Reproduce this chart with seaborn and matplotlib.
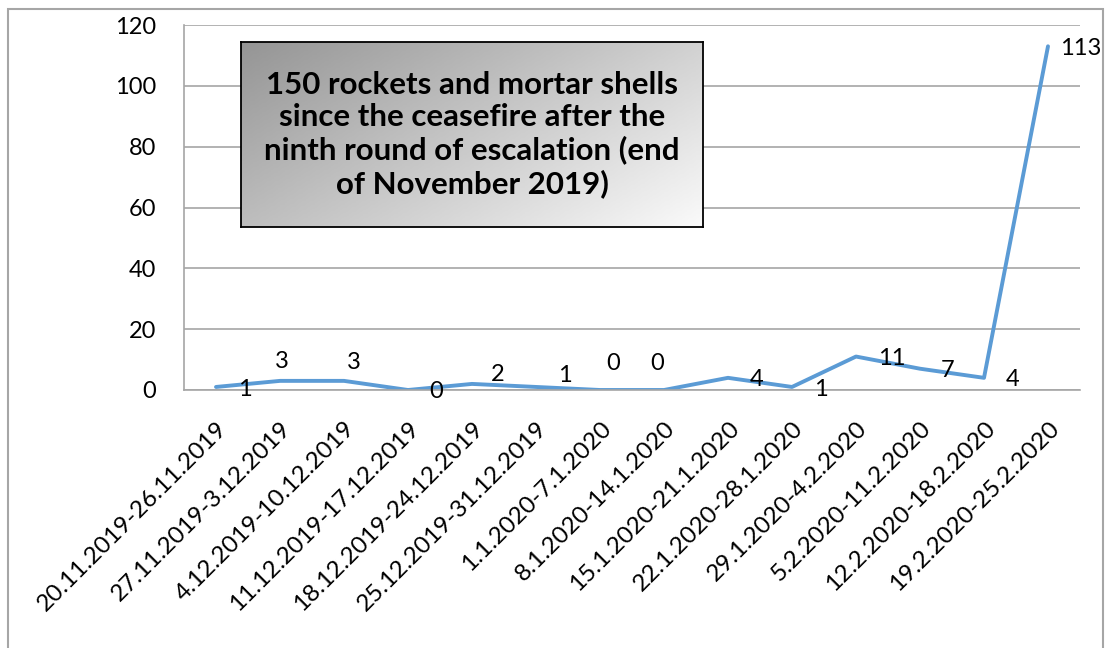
import numpy as np
import pandas as pd
import matplotlib
matplotlib.use("Agg")
import matplotlib.pyplot as plt
from matplotlib.patches import Rectangle
import seaborn as sns

weeks = ["20.11.2019-26.11.2019", "27.11.2019-3.12.2019", "4.12.2019-10.12.2019",
         "11.12.2019-17.12.2019", "18.12.2019-24.12.2019", "25.12.2019-31.12.2019",
         "1.1.2020-7.1.2020", "8.1.2020-14.1.2020", "15.1.2020-21.1.2020",
         "22.1.2020-28.1.2020", "29.1.2020-4.2.2020", "5.2.2020-11.2.2020",
         "12.2.2020-18.2.2020", "19.2.2020-25.2.2020"]
counts = [1, 3, 3, 0, 2, 1, 0, 0, 4, 1, 11, 7, 4, 113]
y_ticks = [0, 20, 40, 60, 80, 100, 120]
title_text = ("150 rockets and mortar shells\nsince the ceasefire after the\n"
              "ninth round of escalation (end\nof November 2019)")

# label offsets in pixels (dx, dy up)
label_offsets = [(29, -3), (2, 19), (10, 18), (28, -1), (26, 9), (29, 11), (13, 27),
                 (-7, 27), (29, -2), (29, -3), (36, -2), (28, -2), (29, -2), (33, -2)]

sns.set_theme(style="white")
plt.rcParams['font.family'] = ['Lato', 'DejaVu Sans']
plt.rcParams['text.color'] = 'black'
plt.rcParams['xtick.color'] = 'black'
plt.rcParams['ytick.color'] = 'black'

W, H = 1107, 648
fig = plt.figure(figsize=(W / 100, H / 100), dpi=100)

# outer border
fig.patches.append(Rectangle((8 / W, -0.05), (1103 - 8) / W, 1 - 9 / H + 0.05,
                             transform=fig.transFigure, fill=False,
                             edgecolor="#a6a6a6", linewidth=1.5))

ax = fig.add_axes([184 / W, 1 - 390 / H, (1080 - 184) / W, (390 - 25) / H])
df = pd.DataFrame({"idx": np.arange(len(weeks)), "count": counts})
sns.lineplot(data=df, x="idx", y="count", ax=ax, color="#5b9bd5", linewidth=2.8)

ax.set_xlim(-0.5, len(weeks) - 0.5)
ax.set_ylim(0, 120)
ax.set_yticks(y_ticks)
ax.set_yticklabels([str(t) for t in y_ticks], fontsize=17, color="black")
ax.set_xticks(np.arange(len(weeks)))
ax.set_xticklabels(weeks, rotation=45, ha="right", rotation_mode="anchor",
                   fontsize=17.5, color="black")
ax.tick_params(axis="y", length=0, pad=20)
ax.tick_params(axis="x", length=0, pad=20)
ax.set_xlabel("")
ax.set_ylabel("")
ax.grid(axis="y", color="#a6a6a6", linewidth=1.2)
ax.set_axisbelow(True)
for s in ["top", "right"]:
    ax.spines[s].set_visible(False)
for s in ["left", "bottom"]:
    ax.spines[s].set_color("#a6a6a6")
    ax.spines[s].set_linewidth(1.2)

for i, (v, (dx, dy)) in enumerate(zip(counts, label_offsets)):
    ax.annotate(str(v), (i, v), xytext=(dx * 0.72, dy * 0.72), textcoords="offset points",
                ha="center", va="center", fontsize=17, color="black")

# title box with gradient
bx0, by0, bx1, by1 = 241, 42, 703, 227
bax = fig.add_axes([bx0 / W, 1 - by1 / H, (bx1 - bx0) / W, (by1 - by0) / H])
gx, gy = np.meshgrid(np.linspace(0, 1, 200), np.linspace(0, 1, 100))
grad = (gx * 0.6 + gy * 0.4)
bax.imshow(grad, cmap=matplotlib.colors.LinearSegmentedColormap.from_list(
    "g", ["#959595", "#fafafa"]), aspect="auto", extent=[0, 1, 0, 1], origin="upper")
bax.set_xlim(0, 1)
bax.set_ylim(0, 1)
bax.set_xticks([])
bax.set_yticks([])
for s in bax.spines.values():
    s.set_visible(True)
    s.set_color("black")
    s.set_linewidth(1.3)
bax.text(0.5, 0.5, title_text, ha="center", va="center", fontsize=22.5,
         fontweight="bold", linespacing=1.18, color="black", transform=bax.transAxes)

fig.savefig("out.png", dpi=100)
